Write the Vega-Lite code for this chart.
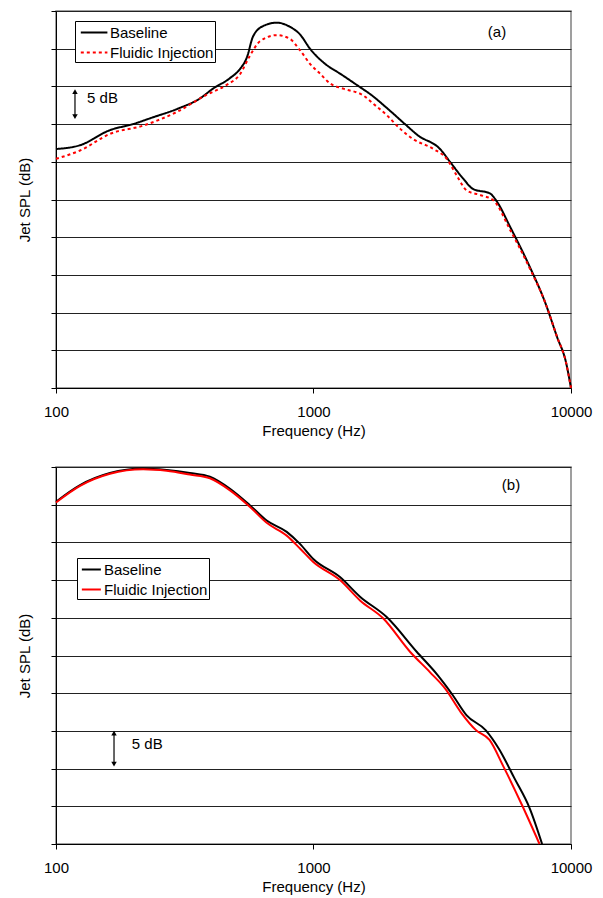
{
  "$schema": "https://vega.github.io/schema/vega-lite/v6.json",
  "padding": {"left": 16, "top": 9, "right": 5, "bottom": 5},
  "spacing": 79,
  "bounds": "flush",
  "background": "white",
  "config": {
    "font": "Liberation Sans",
    "view": {"stroke": "#808080", "strokeWidth": 1.5},
    "axis": {
      "labelFont": "Liberation Sans", "titleFont": "Liberation Sans",
      "labelFontSize": 15, "titleFontSize": 15, "titleFontWeight": "normal",
      "labelColor": "black", "titleColor": "black",
      "domainColor": "black", "tickColor": "black", "tickSize": 5,
      "gridColor": "#222222", "gridWidth": 1
    },
    "legend": {"labelFont": "Liberation Sans", "labelFontSize": 15, "labelColor": "black"}
  },
  "datasets": {
    "a": [
      {"series": "Baseline", "f": 100, "db": 31.7},
      {"series": "Baseline", "f": 124, "db": 32.2},
      {"series": "Baseline", "f": 162, "db": 34.2},
      {"series": "Baseline", "f": 199, "db": 35.0},
      {"series": "Baseline", "f": 238, "db": 35.9},
      {"series": "Baseline", "f": 295, "db": 37.0},
      {"series": "Baseline", "f": 362, "db": 38.4},
      {"series": "Baseline", "f": 407, "db": 39.7},
      {"series": "Baseline", "f": 474, "db": 41.1},
      {"series": "Baseline", "f": 518, "db": 42.3},
      {"series": "Baseline", "f": 552, "db": 43.9},
      {"series": "Baseline", "f": 582, "db": 46.6},
      {"series": "Baseline", "f": 637, "db": 48.0},
      {"series": "Baseline", "f": 721, "db": 48.45},
      {"series": "Baseline", "f": 810, "db": 47.9},
      {"series": "Baseline", "f": 886, "db": 46.9},
      {"series": "Baseline", "f": 969, "db": 45.0},
      {"series": "Baseline", "f": 1128, "db": 42.8},
      {"series": "Baseline", "f": 1267, "db": 41.7},
      {"series": "Baseline", "f": 1516, "db": 39.9},
      {"series": "Baseline", "f": 1657, "db": 39.0},
      {"series": "Baseline", "f": 1947, "db": 37.0},
      {"series": "Baseline", "f": 2266, "db": 35.0},
      {"series": "Baseline", "f": 2546, "db": 33.5},
      {"series": "Baseline", "f": 3099, "db": 31.7},
      {"series": "Baseline", "f": 3389, "db": 30.0},
      {"series": "Baseline", "f": 3807, "db": 27.8},
      {"series": "Baseline", "f": 4164, "db": 26.4},
      {"series": "Baseline", "f": 4846, "db": 25.8},
      {"series": "Baseline", "f": 5160, "db": 24.7},
      {"series": "Baseline", "f": 5796, "db": 21.4},
      {"series": "Baseline", "f": 6931, "db": 16.0},
      {"series": "Baseline", "f": 7925, "db": 11.4},
      {"series": "Baseline", "f": 8823, "db": 6.8},
      {"series": "Baseline", "f": 9563, "db": 3.4},
      {"series": "Baseline", "f": 10000, "db": 0},
      {"series": "Fluidic Injection", "f": 100, "db": 30.4},
      {"series": "Fluidic Injection", "f": 124, "db": 31.5},
      {"series": "Fluidic Injection", "f": 162, "db": 33.7},
      {"series": "Fluidic Injection", "f": 218, "db": 34.8},
      {"series": "Fluidic Injection", "f": 294, "db": 36.6},
      {"series": "Fluidic Injection", "f": 385, "db": 38.9},
      {"series": "Fluidic Injection", "f": 460, "db": 40.2},
      {"series": "Fluidic Injection", "f": 518, "db": 41.6},
      {"series": "Fluidic Injection", "f": 567, "db": 44.1},
      {"series": "Fluidic Injection", "f": 620, "db": 46.0},
      {"series": "Fluidic Injection", "f": 720, "db": 46.8},
      {"series": "Fluidic Injection", "f": 810, "db": 46.3},
      {"series": "Fluidic Injection", "f": 886, "db": 44.8},
      {"series": "Fluidic Injection", "f": 969, "db": 43.0},
      {"series": "Fluidic Injection", "f": 1060, "db": 41.7},
      {"series": "Fluidic Injection", "f": 1159, "db": 40.4},
      {"series": "Fluidic Injection", "f": 1305, "db": 39.7},
      {"series": "Fluidic Injection", "f": 1561, "db": 38.8},
      {"series": "Fluidic Injection", "f": 1707, "db": 37.7},
      {"series": "Fluidic Injection", "f": 1924, "db": 36.2},
      {"series": "Fluidic Injection", "f": 2167, "db": 34.4},
      {"series": "Fluidic Injection", "f": 2441, "db": 33.0},
      {"series": "Fluidic Injection", "f": 2920, "db": 31.7},
      {"series": "Fluidic Injection", "f": 3290, "db": 30.4},
      {"series": "Fluidic Injection", "f": 3598, "db": 28.2},
      {"series": "Fluidic Injection", "f": 3935, "db": 26.2},
      {"series": "Fluidic Injection", "f": 4433, "db": 25.6},
      {"series": "Fluidic Injection", "f": 4994, "db": 24.9},
      {"series": "Fluidic Injection", "f": 5796, "db": 21.0},
      {"series": "Fluidic Injection", "f": 6931, "db": 15.8},
      {"series": "Fluidic Injection", "f": 7925, "db": 11.4},
      {"series": "Fluidic Injection", "f": 8823, "db": 6.8},
      {"series": "Fluidic Injection", "f": 9563, "db": 3.4},
      {"series": "Fluidic Injection", "f": 10000, "db": 0}
    ],
    "b": [
      {"series": "Baseline", "f": 100, "db": 45.4},
      {"series": "Baseline", "f": 124, "db": 47.6},
      {"series": "Baseline", "f": 162, "db": 49.2},
      {"series": "Baseline", "f": 218, "db": 49.8},
      {"series": "Baseline", "f": 269, "db": 49.6},
      {"series": "Baseline", "f": 331, "db": 49.2},
      {"series": "Baseline", "f": 396, "db": 48.7},
      {"series": "Baseline", "f": 474, "db": 47.1},
      {"series": "Baseline", "f": 567, "db": 44.9},
      {"series": "Baseline", "f": 658, "db": 42.9},
      {"series": "Baseline", "f": 787, "db": 41.4},
      {"series": "Baseline", "f": 886, "db": 39.8},
      {"series": "Baseline", "f": 998, "db": 37.8},
      {"series": "Baseline", "f": 1267, "db": 35.4},
      {"series": "Baseline", "f": 1516, "db": 32.8},
      {"series": "Baseline", "f": 1924, "db": 30.1},
      {"series": "Baseline", "f": 2516, "db": 25.5},
      {"series": "Baseline", "f": 3034, "db": 22.4},
      {"series": "Baseline", "f": 3481, "db": 19.7},
      {"series": "Baseline", "f": 3925, "db": 17.1},
      {"series": "Baseline", "f": 4660, "db": 15.1},
      {"series": "Baseline", "f": 5253, "db": 12.6},
      {"series": "Baseline", "f": 6034, "db": 8.7},
      {"series": "Baseline", "f": 6918, "db": 4.7},
      {"series": "Baseline", "f": 7723, "db": 0},
      {"series": "Fluidic Injection", "f": 100, "db": 45.3},
      {"series": "Fluidic Injection", "f": 124, "db": 47.5},
      {"series": "Fluidic Injection", "f": 162, "db": 49.1},
      {"series": "Fluidic Injection", "f": 218, "db": 49.7},
      {"series": "Fluidic Injection", "f": 269, "db": 49.5},
      {"series": "Fluidic Injection", "f": 331, "db": 49.0},
      {"series": "Fluidic Injection", "f": 396, "db": 48.5},
      {"series": "Fluidic Injection", "f": 474, "db": 46.9},
      {"series": "Fluidic Injection", "f": 567, "db": 44.7},
      {"series": "Fluidic Injection", "f": 658, "db": 42.6},
      {"series": "Fluidic Injection", "f": 787, "db": 40.9},
      {"series": "Fluidic Injection", "f": 886, "db": 39.2},
      {"series": "Fluidic Injection", "f": 998, "db": 37.4},
      {"series": "Fluidic Injection", "f": 1267, "db": 35.0},
      {"series": "Fluidic Injection", "f": 1516, "db": 32.3},
      {"series": "Fluidic Injection", "f": 1867, "db": 29.9},
      {"series": "Fluidic Injection", "f": 2370, "db": 25.5},
      {"series": "Fluidic Injection", "f": 2831, "db": 22.8},
      {"series": "Fluidic Injection", "f": 3247, "db": 20.6},
      {"series": "Fluidic Injection", "f": 3729, "db": 17.5},
      {"series": "Fluidic Injection", "f": 4276, "db": 15.1},
      {"series": "Fluidic Injection", "f": 4826, "db": 13.8},
      {"series": "Fluidic Injection", "f": 5443, "db": 10.4},
      {"series": "Fluidic Injection", "f": 6465, "db": 5.1},
      {"series": "Fluidic Injection", "f": 7546, "db": 0}
    ],
    "labA": [{"f": 5160, "db": 47.2, "t": "(a)", "al": "center"}],
    "dbA": [{"f": 132, "db": 38.5, "t": "5 dB"}],
    "arrA": [{"f": 118.5, "top": 39.3, "bot": 36.0}],
    "labB": [{"f": 5848, "db": 47.6, "t": "(b)"}],
    "dbB": [{"f": 197, "db": 13.2, "t": "5 dB"}],
    "arrB": [{"f": 168, "top": 14.7, "bot": 10.6}]
  },
  "resolve": {
    "scale": {"x": "independent", "y": "independent", "color": "independent", "strokeDash": "independent"},
    "legend": {"color": "independent", "strokeDash": "independent"}
  },
  "vconcat": [
    {
      "width": 515, "height": 377,
      "layer": [
        {
          "data": {"name": "a"},
          "mark": {"type": "line", "interpolate": "monotone", "strokeWidth": 2},
          "encoding": {
            "x": {"field": "f", "type": "quantitative",
                  "scale": {"type": "log", "domain": [100, 10000], "nice": false},
                  "axis": {"title": "Frequency (Hz)", "values": [100, 1000, 10000], "format": "d", "grid": false, "labelPadding": 11, "titlePadding": 4, "labelFlush": false, "labelOverlap": false}},
            "y": {"field": "db", "type": "quantitative",
                  "scale": {"domain": [0, 50], "nice": false, "zero": false},
                  "axis": {"title": "Jet SPL (dB)", "labels": false, "values": [0, 5, 10, 15, 20, 25, 30, 35, 40, 45, 50], "grid": true, "titlePadding": 18}},
            "color": {"field": "series", "type": "nominal",
                      "scale": {"domain": ["Baseline", "Fluidic Injection"], "range": ["black", "red"]},
                      "legend": {"title": null, "orient": "none", "legendX": 19, "legendY": 10, "strokeColor": "black", "fillColor": "white", "padding": 1, "symbolType": "M-0.6,0H2.2", "symbolSize": 361, "symbolStrokeWidth": 2, "rowPadding": 1, "labelOffset": 13}},
            "strokeDash": {"field": "series", "type": "nominal",
                      "scale": {"domain": ["Baseline", "Fluidic Injection"], "range": [[1, 0], [3, 3]]},
                      "legend": {"title": null, "orient": "none", "legendX": 19, "legendY": 10, "strokeColor": "black", "fillColor": "white", "padding": 1, "symbolType": "M-0.6,0H2.2", "symbolSize": 361, "symbolStrokeWidth": 2, "rowPadding": 1, "labelOffset": 13}}
          }
        },
        {
          "data": {"name": "labA"},
          "mark": {"type": "text", "fontSize": 15, "align": "center", "baseline": "middle", "color": "black"},
          "encoding": {
            "x": {"field": "f", "type": "quantitative", "axis": {"title": "Frequency (Hz)", "values": [100, 1000, 10000], "format": "d", "grid": false, "labelPadding": 11, "titlePadding": 4, "labelFlush": false, "labelOverlap": false}},
            "y": {"field": "db", "type": "quantitative", "axis": {"title": "Jet SPL (dB)", "labels": false, "values": [0, 5, 10, 15, 20, 25, 30, 35, 40, 45, 50], "grid": true, "titlePadding": 18}},
            "text": {"field": "t"}}
        },
        {
          "data": {"name": "dbA"},
          "mark": {"type": "text", "fontSize": 15, "align": "left", "baseline": "middle", "color": "black"},
          "encoding": {
            "x": {"field": "f", "type": "quantitative", "axis": {"title": "Frequency (Hz)", "values": [100, 1000, 10000], "format": "d", "grid": false, "labelPadding": 11, "titlePadding": 4, "labelFlush": false, "labelOverlap": false}},
            "y": {"field": "db", "type": "quantitative", "axis": {"title": "Jet SPL (dB)", "labels": false, "values": [0, 5, 10, 15, 20, 25, 30, 35, 40, 45, 50], "grid": true, "titlePadding": 18}},
            "text": {"field": "t"}}
        },
        {
          "data": {"name": "arrA"},
          "mark": {"type": "rule", "color": "black", "strokeWidth": 1.2},
          "encoding": {
            "x": {"field": "f", "type": "quantitative", "axis": {"title": "Frequency (Hz)", "values": [100, 1000, 10000], "format": "d", "grid": false, "labelPadding": 11, "titlePadding": 4, "labelFlush": false, "labelOverlap": false}},
            "y": {"field": "top", "type": "quantitative", "axis": {"title": "Jet SPL (dB)", "labels": false, "values": [0, 5, 10, 15, 20, 25, 30, 35, 40, 45, 50], "grid": true, "titlePadding": 18}},
            "y2": {"field": "bot"}}
        },
        {
          "data": {"name": "arrA"},
          "mark": {"type": "point", "shape": "triangle-up", "filled": true, "color": "black", "size": 30, "opacity": 1},
          "encoding": {
            "x": {"field": "f", "type": "quantitative", "axis": {"title": "Frequency (Hz)", "values": [100, 1000, 10000], "format": "d", "grid": false, "labelPadding": 11, "titlePadding": 4, "labelFlush": false, "labelOverlap": false}},
            "y": {"field": "top", "type": "quantitative", "axis": {"title": "Jet SPL (dB)", "labels": false, "values": [0, 5, 10, 15, 20, 25, 30, 35, 40, 45, 50], "grid": true, "titlePadding": 18}}}
        },
        {
          "data": {"name": "arrA"},
          "mark": {"type": "point", "shape": "triangle-down", "filled": true, "color": "black", "size": 30, "opacity": 1},
          "encoding": {
            "x": {"field": "f", "type": "quantitative", "axis": {"title": "Frequency (Hz)", "values": [100, 1000, 10000], "format": "d", "grid": false, "labelPadding": 11, "titlePadding": 4, "labelFlush": false, "labelOverlap": false}},
            "y": {"field": "bot", "type": "quantitative", "axis": {"title": "Jet SPL (dB)", "labels": false, "values": [0, 5, 10, 15, 20, 25, 30, 35, 40, 45, 50], "grid": true, "titlePadding": 18}}}
        }
      ]
    },
    {
      "width": 515, "height": 377,
      "layer": [
        {
          "data": {"name": "b"},
          "mark": {"type": "line", "interpolate": "monotone", "strokeWidth": 2},
          "encoding": {
            "x": {"field": "f", "type": "quantitative",
                  "scale": {"type": "log", "domain": [100, 10000], "nice": false},
                  "axis": {"title": "Frequency (Hz)", "values": [100, 1000, 10000], "format": "d", "grid": false, "labelPadding": 11, "titlePadding": 4, "labelFlush": false, "labelOverlap": false}},
            "y": {"field": "db", "type": "quantitative",
                  "scale": {"domain": [0, 50], "nice": false, "zero": false},
                  "axis": {"title": "Jet SPL (dB)", "labels": false, "values": [0, 5, 10, 15, 20, 25, 30, 35, 40, 45, 50], "grid": true, "titlePadding": 18}},
            "color": {"field": "series", "type": "nominal",
                      "scale": {"domain": ["Baseline", "Fluidic Injection"], "range": ["black", "red"]},
                      "legend": {"title": null, "orient": "none", "legendX": 21, "legendY": 91, "strokeColor": "black", "fillColor": "white", "padding": 1, "symbolType": "M-0.7,0H1.3", "symbolSize": 361, "symbolStrokeWidth": 2, "rowPadding": 1, "labelOffset": 5}}
          }
        },
        {
          "data": {"name": "labB"},
          "mark": {"type": "text", "fontSize": 15, "align": "center", "baseline": "middle", "color": "black"},
          "encoding": {
            "x": {"field": "f", "type": "quantitative", "axis": {"title": "Frequency (Hz)", "values": [100, 1000, 10000], "format": "d", "grid": false, "labelPadding": 11, "titlePadding": 4, "labelFlush": false, "labelOverlap": false}},
            "y": {"field": "db", "type": "quantitative", "axis": {"title": "Jet SPL (dB)", "labels": false, "values": [0, 5, 10, 15, 20, 25, 30, 35, 40, 45, 50], "grid": true, "titlePadding": 18}},
            "text": {"field": "t"}}
        },
        {
          "data": {"name": "dbB"},
          "mark": {"type": "text", "fontSize": 15, "align": "left", "baseline": "middle", "color": "black"},
          "encoding": {
            "x": {"field": "f", "type": "quantitative", "axis": {"title": "Frequency (Hz)", "values": [100, 1000, 10000], "format": "d", "grid": false, "labelPadding": 11, "titlePadding": 4, "labelFlush": false, "labelOverlap": false}},
            "y": {"field": "db", "type": "quantitative", "axis": {"title": "Jet SPL (dB)", "labels": false, "values": [0, 5, 10, 15, 20, 25, 30, 35, 40, 45, 50], "grid": true, "titlePadding": 18}},
            "text": {"field": "t"}}
        },
        {
          "data": {"name": "arrB"},
          "mark": {"type": "rule", "color": "black", "strokeWidth": 1.2},
          "encoding": {
            "x": {"field": "f", "type": "quantitative", "axis": {"title": "Frequency (Hz)", "values": [100, 1000, 10000], "format": "d", "grid": false, "labelPadding": 11, "titlePadding": 4, "labelFlush": false, "labelOverlap": false}},
            "y": {"field": "top", "type": "quantitative", "axis": {"title": "Jet SPL (dB)", "labels": false, "values": [0, 5, 10, 15, 20, 25, 30, 35, 40, 45, 50], "grid": true, "titlePadding": 18}},
            "y2": {"field": "bot"}}
        },
        {
          "data": {"name": "arrB"},
          "mark": {"type": "point", "shape": "triangle-up", "filled": true, "color": "black", "size": 30, "opacity": 1},
          "encoding": {
            "x": {"field": "f", "type": "quantitative", "axis": {"title": "Frequency (Hz)", "values": [100, 1000, 10000], "format": "d", "grid": false, "labelPadding": 11, "titlePadding": 4, "labelFlush": false, "labelOverlap": false}},
            "y": {"field": "top", "type": "quantitative", "axis": {"title": "Jet SPL (dB)", "labels": false, "values": [0, 5, 10, 15, 20, 25, 30, 35, 40, 45, 50], "grid": true, "titlePadding": 18}}}
        },
        {
          "data": {"name": "arrB"},
          "mark": {"type": "point", "shape": "triangle-down", "filled": true, "color": "black", "size": 30, "opacity": 1},
          "encoding": {
            "x": {"field": "f", "type": "quantitative", "axis": {"title": "Frequency (Hz)", "values": [100, 1000, 10000], "format": "d", "grid": false, "labelPadding": 11, "titlePadding": 4, "labelFlush": false, "labelOverlap": false}},
            "y": {"field": "bot", "type": "quantitative", "axis": {"title": "Jet SPL (dB)", "labels": false, "values": [0, 5, 10, 15, 20, 25, 30, 35, 40, 45, 50], "grid": true, "titlePadding": 18}}}
        }
      ]
    }
  ]
}
